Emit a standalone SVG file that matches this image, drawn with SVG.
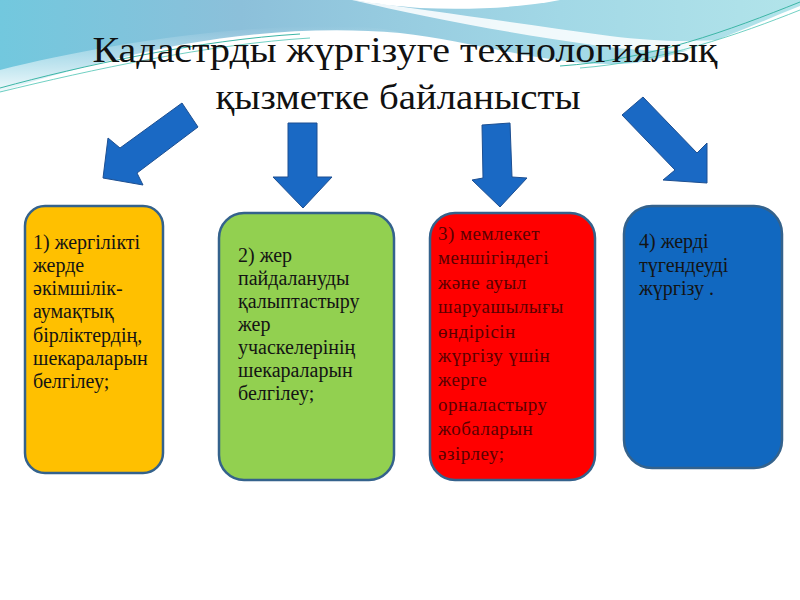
<svg xmlns="http://www.w3.org/2000/svg" width="800" height="600" viewBox="0 0 800 600">
<defs>
<linearGradient id="sky" x1="0" y1="0" x2="1" y2="0">
<stop offset="0" stop-color="#72c8de"/>
<stop offset="0.3" stop-color="#8cc0da"/>
<stop offset="0.7" stop-color="#a2d8e6"/>
<stop offset="1" stop-color="#b2e4ea"/>
</linearGradient>
<linearGradient id="fade" x1="0" y1="0" x2="0" y2="1">
<stop offset="0" stop-color="#ffffff" stop-opacity="0"/>
<stop offset="1" stop-color="#ffffff" stop-opacity="0.9"/>
</linearGradient>
<style>
.title{font-size:35px;fill:#111;}
.box{stroke:#34628c;stroke-width:2.5;}
.lbl{font-size:20px;fill:#141414;}
.lbl3{font-size:19px;fill:#5a0000;letter-spacing:0.5px;}
.arr{fill:#1a69c4;stroke:#1d4f91;stroke-width:1;stroke-linejoin:miter;}
</style>
</defs>
<rect width="800" height="600" fill="#ffffff"/>
<g id="background">
<path d="M0,0 H800 V6 C740,30 690,55 635,63 C560,70 480,42 400,33 C300,24 200,38 120,58 C70,70 30,82 0,92 Z" fill="url(#sky)"/>
<path d="M0,70 C80,50 200,28 320,26 C360,26 390,28 400,33 C300,26 200,42 120,60 C70,72 30,84 0,92 Z" fill="url(#fade)"/>
<path d="M352,0 C430,10 520,24 610,36 C690,46 750,40 800,26 V32 C740,50 680,56 600,46 C500,32 420,16 352,0 Z" fill="#ffffff" opacity="0.85"/>
<path d="M352,0 H560 C520,8 470,10 420,8 C395,6 370,3 352,0 Z" fill="#ffffff"/>
<path d="M0,88 C80,66 200,40 300,34" fill="none" stroke="#3db6a6" stroke-width="1"/>
<path d="M0,92 C90,70 210,44 310,38" fill="none" stroke="#4cc4b4" stroke-width="0.8"/>
<path d="M560,66 C650,60 730,30 800,2" fill="none" stroke="#3db6a6" stroke-width="1"/>
<path d="M580,68 C660,62 740,34 800,10" fill="none" stroke="#4cc4b4" stroke-width="0.8"/>
</g>
<g id="title" font-family="'Liberation Serif', 'DejaVu Serif', serif">
<text class="title" x="405" y="62" text-anchor="middle" textLength="625" lengthAdjust="spacingAndGlyphs">Кадастрды жүргізуге технологиялық</text>
<text class="title" x="398" y="109" text-anchor="middle" textLength="365" lengthAdjust="spacingAndGlyphs">қызметке байланысты</text>
</g>
<g id="connectors">
<polygon class="arr" points="182,103 198,127 137,173 143,185 103,178 108,138 120,148"/>
<polygon class="arr" points="288,123 317,123 317,177 332,177 303,208 273,177 288,177"/>
<polygon class="arr" points="482,125 510,123 512,177 527,178 500,207 472,180 483,178"/>
<polygon class="arr" points="643,97 697,153 707,143 707,183 663,180 675,170 622,115"/>
</g>
<g id="node1" font-family="'Liberation Serif', 'DejaVu Serif', serif">
<rect class="box" x="25" y="206" width="138" height="267" rx="20" fill="#ffc000"/>
<text class="lbl"><tspan x="33" y="249">1) жергілікті</tspan><tspan x="33" y="272">жерде</tspan><tspan x="33" y="295">әкімшілік-</tspan><tspan x="33" y="318">аумақтық</tspan><tspan x="33" y="342">бірліктердің,</tspan><tspan x="33" y="365">шекараларын</tspan><tspan x="33" y="388">белгілеу;</tspan></text>
</g>
<g id="node2" font-family="'Liberation Serif', 'DejaVu Serif', serif">
<rect class="box" x="219" y="213" width="175" height="267" rx="25" fill="#92d050"/>
<text class="lbl"><tspan x="238" y="262">2) жер</tspan><tspan x="238" y="285">пайдалануды</tspan><tspan x="238" y="308">қалыптастыру</tspan><tspan x="238" y="331">жер</tspan><tspan x="238" y="354">учаскелерінің</tspan><tspan x="238" y="377">шекараларын</tspan><tspan x="238" y="400">белгілеу;</tspan></text>
</g>
<g id="node3" font-family="'Liberation Serif', 'DejaVu Serif', serif">
<rect class="box" x="430" y="213" width="165" height="267" rx="25" fill="#ff0000"/>
<text class="lbl3"><tspan x="438" y="240">3) мемлекет</tspan><tspan x="438" y="264">меншігіндегі</tspan><tspan x="438" y="289">және ауыл</tspan><tspan x="438" y="313">шаруашылығы</tspan><tspan x="438" y="338">өндірісін</tspan><tspan x="438" y="362">жүргізу үшін</tspan><tspan x="438" y="386">жерге</tspan><tspan x="438" y="411">орналастыру</tspan><tspan x="438" y="435">жобаларын</tspan><tspan x="438" y="460">әзірлеу;</tspan></text>
</g>
<g id="node4" font-family="'Liberation Serif', 'DejaVu Serif', serif">
<rect class="box" x="624" y="206" width="158" height="262" rx="28" fill="#1168c0"/>
<text class="lbl"><tspan x="639" y="248">4) жерді</tspan><tspan x="639" y="272">түгендеуді</tspan><tspan x="639" y="295">жүргізу .</tspan></text>
</g>
</svg>
